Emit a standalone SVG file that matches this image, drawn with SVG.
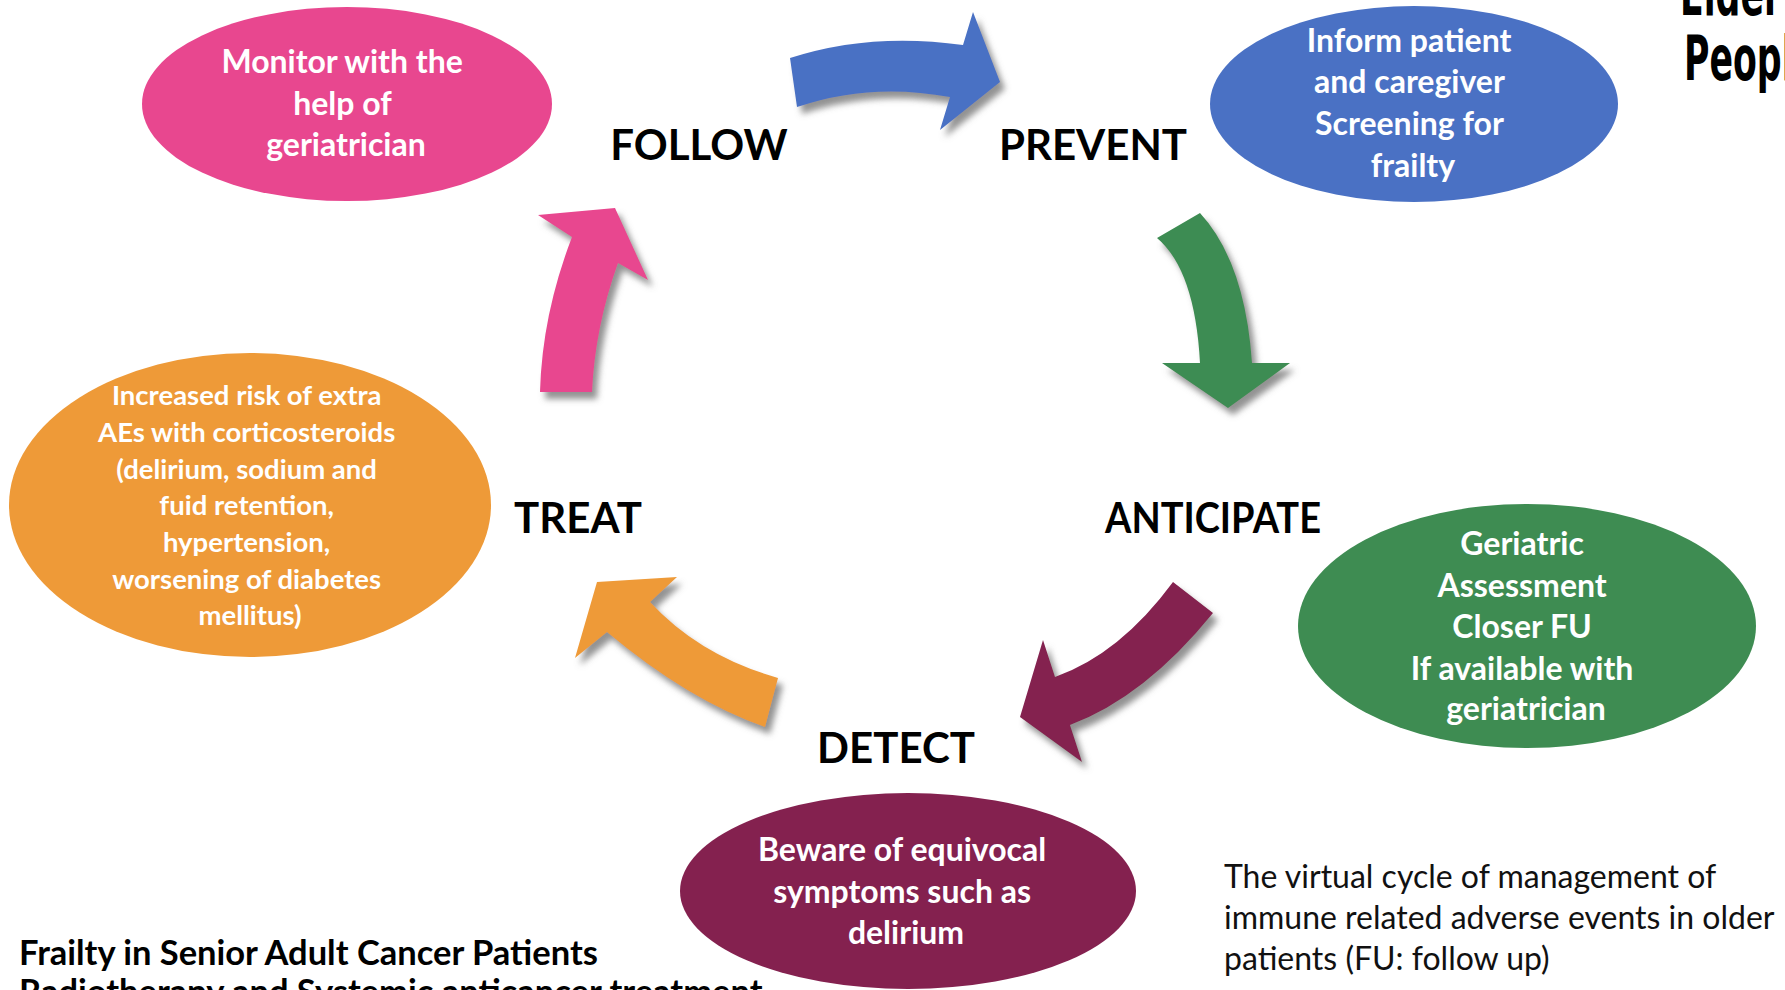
<svg xmlns="http://www.w3.org/2000/svg" width="1785" height="990" viewBox="0 0 1785 990">
  <defs>
    <filter id="shadow" x="-20%" y="-20%" width="150%" height="150%">
      <feDropShadow dx="5" dy="7" stdDeviation="3" flood-color="#6e6e6e" flood-opacity="0.75"/>
    </filter>
  </defs>
  <style>
    .ell-text { font-family: Lato, "Open Sans", sans-serif; font-weight: bold; fill: #ffffff; text-anchor: middle; }
    .big { font-size: 32px; }
    .small { font-size: 27.5px; }
    .stage { font-family: Lato, "Open Sans", sans-serif; font-weight: bold; font-size: 42px; fill: #000000; text-anchor: middle; }
    .note { font-family: Lato, "Open Sans", sans-serif; font-size: 32px; fill: #111111; }
    .title { font-family: Lato, "Open Sans", sans-serif; font-weight: bold; font-size: 34.5px; fill: #000000; }
    .corner { font-family: "DejaVu Sans", sans-serif; font-weight: bold; font-size: 62px; fill: #000000; }
  </style>

  <rect width="1785" height="990" fill="#ffffff"/>

  <!-- cycle arrows -->
  <g id="connectors" filter="url(#shadow)">
    <path id="arrow-follow-prevent" fill="#4A71C4" d="M790,58 Q870,32 963,45 L973,12 L1000,82 L940,130 L950,97 Q870,82 797,107 Z"/>
    <path id="arrow-prevent-anticipate" fill="#3E8C52" d="M1157,238 L1200,213 Q1245,262 1252,363 L1290,363 L1228,408 L1162,363 L1200,363 Q1195,270 1157,238 Z"/>
    <path id="arrow-anticipate-detect" fill="#84214F" d="M1173,582 Q1120,654 1055,677 L1043,640 L1020,717 L1082,762 L1070,725 Q1145,697 1213,613 Z"/>
    <path id="arrow-detect-treat" fill="#EE9A38" d="M597,582 L677,577 L650,602 Q700,656 778,678 L765,727 Q688,700 607,632 L575,658 Z"/>
    <path id="arrow-treat-follow" fill="#E8478F" d="M540,392 Q542,315 572,237 L538,215 L615,208 L648,280 L618,263 Q595,327 592,392 Z"/>
  </g>

  <!-- stage labels -->
  <g id="label-follow"><text class="stage" x="699" y="160">FOLLOW</text></g>
  <g id="label-prevent"><text class="stage" x="1093" y="160">PREVENT</text></g>
  <g id="label-anticipate"><text class="stage" x="1213" y="533" textLength="216" lengthAdjust="spacingAndGlyphs">ANTICIPATE</text></g>
  <g id="label-detect"><text class="stage" x="896" y="763">DETECT</text></g>
  <g id="label-treat"><text class="stage" x="578" y="533">TREAT</text></g>

  <!-- follow: monitoring -->
  <g id="node-follow">
    <ellipse cx="347" cy="104" rx="205" ry="97" fill="#E8478F"/>
    <text class="ell-text big">
      <tspan x="346" y="73">Monitor with the</tspan>
      <tspan x="346" y="115">help of</tspan>
      <tspan x="346" y="156">geriatrician</tspan>
    </text>
  </g>

  <!-- prevent: information and screening -->
  <g id="node-prevent">
    <ellipse cx="1414" cy="104" rx="204" ry="98" fill="#4A71C4"/>
    <text class="ell-text big">
      <tspan x="1413" y="52">Inform patient</tspan>
      <tspan x="1413" y="93">and caregiver</tspan>
      <tspan x="1413" y="135">Screening for</tspan>
      <tspan x="1413" y="177">frailty</tspan>
    </text>
  </g>

  <!-- anticipate: assessment -->
  <g id="node-anticipate">
    <ellipse cx="1527" cy="626" rx="229" ry="122" fill="#3E8C52"/>
    <text class="ell-text big">
      <tspan x="1526" y="555">Geriatric</tspan>
      <tspan x="1526" y="597">Assessment</tspan>
      <tspan x="1526" y="638">Closer FU</tspan>
      <tspan x="1526" y="680">If available with</tspan>
      <tspan x="1526" y="720">geriatrician</tspan>
    </text>
  </g>

  <!-- detect: symptoms -->
  <g id="node-detect">
    <ellipse cx="908" cy="891" rx="228" ry="98" fill="#84214F"/>
    <text class="ell-text big">
      <tspan x="906" y="861">Beware of equivocal</tspan>
      <tspan x="906" y="903">symptoms such as</tspan>
      <tspan x="906" y="944">delirium</tspan>
    </text>
  </g>

  <!-- treat: corticosteroid risks -->
  <g id="node-treat">
    <ellipse cx="250" cy="505" rx="241" ry="152" fill="#EE9A38"/>
    <text class="ell-text small">
      <tspan x="250" y="405">Increased risk of extra</tspan>
      <tspan x="250" y="442">AEs with corticosteroids</tspan>
      <tspan x="250" y="479">(delirium, sodium and</tspan>
      <tspan x="250" y="515">fuid retention,</tspan>
      <tspan x="250" y="552">hypertension,</tspan>
      <tspan x="250" y="589">worsening of diabetes</tspan>
      <tspan x="250" y="625">mellitus)</tspan>
    </text>
  </g>

  <!-- caption -->
  <g id="caption">
    <text class="note">
      <tspan x="1224" y="888">The virtual cycle of management of</tspan>
      <tspan x="1224" y="929">immune related adverse events in older</tspan>
      <tspan x="1224" y="970">patients (FU: follow up)</tspan>
    </text>
  </g>

  <!-- footer heading -->
  <g id="footer">
    <text class="title" x="19" y="965">Frailty in Senior Adult Cancer Patients</text>
    <text class="title" x="19" y="1004" font-weight="normal">Radiotherapy and Systemic anticancer treatment</text>
  </g>

  <!-- corner heading -->
  <g id="corner-heading">
    <text class="corner" transform="translate(1680,15) scale(0.56,1)">Elder</text>
    <text class="corner" transform="translate(1684,80) scale(0.56,1)">People</text>
  </g>
</svg>
